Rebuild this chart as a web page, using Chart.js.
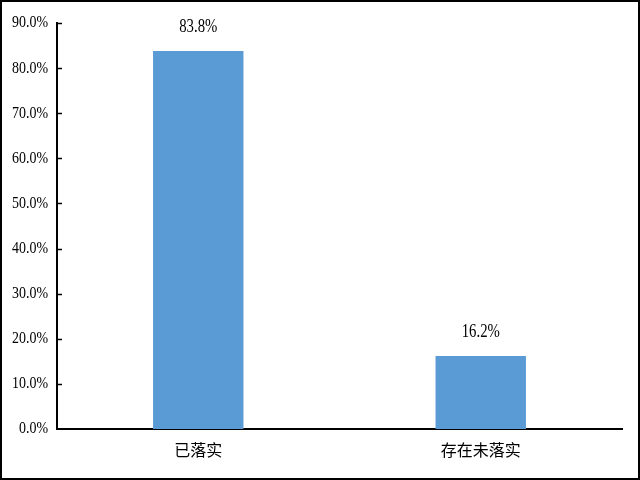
<!DOCTYPE html>
<html>
<head>
<meta charset="utf-8">
<script src="https://cdn.jsdelivr.net/npm/chart.js@4"></script>
<style>
  html, body { margin: 0; padding: 0; background: #fff; }
  #wrap { width: 640px; height: 480px; position: relative; }
</style>
</head>
<body>
<div id="wrap"><canvas id="chart" width="640" height="480"></canvas></div>
<script>
// 落实情况 柱状图
var categories = ['已落实', '存在未落实'];
var values = [83.8, 16.2];
var yTicks = [0, 10, 20, 30, 40, 50, 60, 70, 80, 90];

var numFont = '"Liberation Serif", "Times New Roman", serif';
var cjkFont = '"Liberation Serif", "Noto Sans CJK SC", serif';

// 原图数字是窄长的宋体/Times，横向压一下
function drawNarrow(ctx, text, x, y, align, size) {
  var sx = 0.82;
  ctx.save();
  ctx.font = size + 'px ' + numFont;
  ctx.textAlign = align;
  ctx.translate(x, y);
  ctx.scale(sx, 1);
  ctx.fillText(text, 0, 0);
  ctx.restore();
}

// 柱顶数值 + y 轴标签 + 内向刻度 + 外框
var extras = {
  id: 'extras',
  afterDatasetsDraw: function (chart) {
    var ctx = chart.ctx;
    var meta = chart.getDatasetMeta(0);
    ctx.save();
    ctx.fillStyle = '#000';
    ctx.textBaseline = 'alphabetic';
    meta.data.forEach(function (bar, i) {
      drawNarrow(ctx, values[i].toFixed(1) + '%', bar.x, bar.y - 19, 'center', 18);
    });

    var y = chart.scales.y;
    var left = chart.chartArea.left;
    ctx.textBaseline = 'middle';
    yTicks.forEach(function (t) {
      var py = y.getPixelForValue(t);
      drawNarrow(ctx, t.toFixed(1) + '%', left - 9, py, 'right', 17);
    });

    // y 轴刻度朝内
    ctx.strokeStyle = '#000';
    ctx.lineWidth = 1.5;
    yTicks.forEach(function (t) {
      if (t === 0) return;
      var py = Math.round(y.getPixelForValue(t)) + 0.5;
      ctx.beginPath();
      ctx.moveTo(left, py);
      ctx.lineTo(left + 5, py);
      ctx.stroke();
    });

    ctx.lineWidth = 2;
    ctx.strokeRect(1, 1, 638, 478);
    ctx.restore();
  }
};

new Chart(document.getElementById('chart'), {
  type: 'bar',
  data: {
    labels: categories,
    datasets: [{
      data: values,
      backgroundColor: '#5B9BD5',
      borderWidth: 0,
      barPercentage: 1,
      categoryPercentage: 0.32
    }]
  },
  options: {
    responsive: false,
    animation: false,
    events: [],
    layout: { padding: { top: 23, right: 18, bottom: 0, left: 0 } },
    plugins: { legend: { display: false }, tooltip: { enabled: false } },
    scales: {
      x: {
        grid: { display: false, drawTicks: false },
        border: { display: true, color: '#000', width: 2 },
        ticks: { color: '#000', padding: 13, font: { size: 16, family: cjkFont } },
        afterFit: function (s) { s.height = 51; }
      },
      y: {
        min: 0,
        max: 90,
        grid: { display: false, drawTicks: false },
        border: { display: true, color: '#000', width: 2 },
        afterBuildTicks: function (s) {
          s.ticks = yTicks.map(function (v) { return { value: v }; });
        },
        ticks: {
          color: 'rgba(0,0,0,0)',
          padding: 10,
          font: { size: 14, family: numFont },
          callback: function (v) { return Number(v).toFixed(1) + '%'; }
        },
        afterFit: function (s) { s.width = 57; }
      }
    }
  },
  plugins: [extras]
});
</script>
</body>
</html>
